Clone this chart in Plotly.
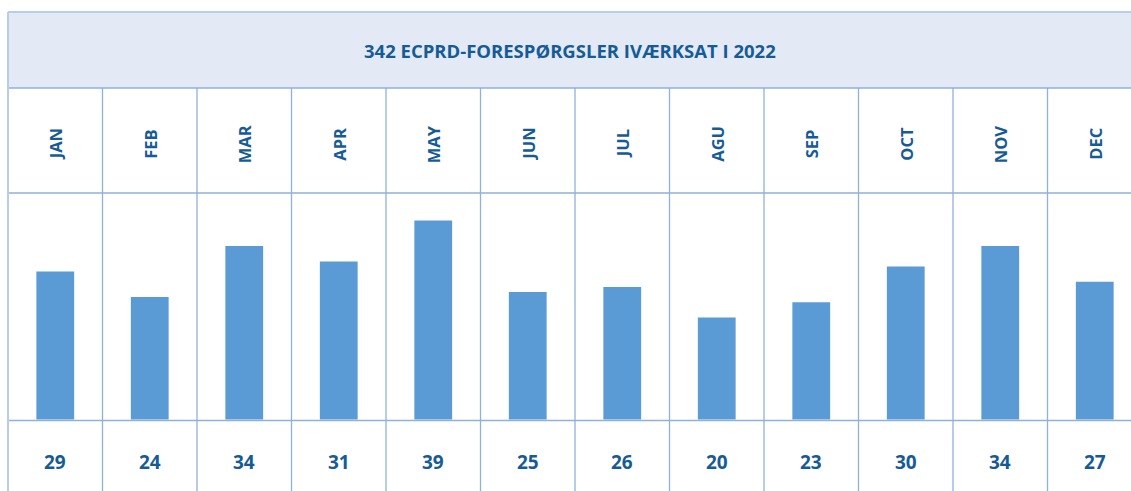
import plotly.graph_objects as go

months = ["JAN", "FEB", "MAR", "APR", "MAY", "JUN", "JUL", "AGU", "SEP", "OCT", "NOV", "DEC"]
values = [29, 24, 34, 31, 39, 25, 26, 20, 23, 30, 34, 27]
title_text = "342 ECPRD-FORESPØRGSLER IVÆRKSAT I 2022"

W, H = 1131, 491
COL_W = 94.5
LEFT = 8
x0 = -0.5 - LEFT / COL_W
x1 = x0 + W / COL_W
BASE_PX = 419.5
PX_PER_UNIT = 5.1
y_top = BASE_PX / PX_PER_UNIT
y_bot = -(H - BASE_PX) / PX_PER_UNIT

TXT = "#175B96"
GRID = "#8FB1DB"
BORDER = "#B7CDE9"
BAND = "#E3EAF6"
BAR = "#5B9BD5"

def py(p):
    return 1 - p / H

idx = list(range(len(months)))
fig = go.Figure()
fig.add_trace(go.Bar(x=idx, y=values, width=0.40, marker=dict(color=BAR, line=dict(width=0)),
                     hoverinfo="x+y"))

shapes = []
shapes.append(dict(type="rect", xref="paper", yref="paper", x0=LEFT / W, x1=1.01, y0=py(88), y1=py(12),
                   fillcolor=BAND, line=dict(width=0), layer="below"))
for p in [88, 193, 420.5]:
    shapes.append(dict(type="line", xref="paper", yref="paper", x0=LEFT / W, x1=1, y0=py(p), y1=py(p),
                       line=dict(color=GRID, width=1.3)))
shapes.append(dict(type="line", xref="paper", yref="paper", x0=LEFT / W, x1=1, y0=py(12), y1=py(12),
                   line=dict(color=BORDER, width=2)))
shapes.append(dict(type="line", xref="paper", yref="paper", x0=LEFT / W, x1=LEFT / W, y0=0, y1=py(12),
                   line=dict(color=BORDER, width=2)))
for i in range(len(months) - 1):
    shapes.append(dict(type="line", xref="x", yref="paper", x0=i + 0.5, x1=i + 0.5, y0=0, y1=py(88),
                       line=dict(color=GRID, width=1.3)))

annotations = [dict(text=f"<b>{title_text}</b>", xref="paper", yref="paper", x=(LEFT + W) / 2 / W + 0.0,
                    y=py(50), showarrow=False, font=dict(size=18.5, color=TXT, family="Open Sans"),
                    xanchor="center", yanchor="middle")]
for i, (m, v) in enumerate(zip(months, values)):
    annotations.append(dict(text=f"<b>{m}</b>", x=i, xref="x", yref="paper", y=py(144), textangle=-90,
                            showarrow=False, font=dict(size=16.5, color=TXT, family="Open Sans"),
                            xanchor="center", yanchor="middle"))
    annotations.append(dict(text=f"<b>{v}</b>", x=i, xref="x", yref="paper", y=py(462),
                            showarrow=False, font=dict(size=19, color=TXT, family="Open Sans"),
                            xanchor="center", yanchor="middle"))

fig.update_layout(
    width=W, height=H, margin=dict(l=0, r=0, t=0, b=0),
    paper_bgcolor="white", plot_bgcolor="rgba(0,0,0,0)",
    xaxis=dict(range=[x0, x1], visible=False, fixedrange=True),
    yaxis=dict(range=[y_bot, y_top], visible=False, fixedrange=True),
    shapes=shapes, annotations=annotations, showlegend=False,
)
fig.write_html("out.html", post_script="document.body.style.margin='0';",
               config={"displayModeBar": False})
